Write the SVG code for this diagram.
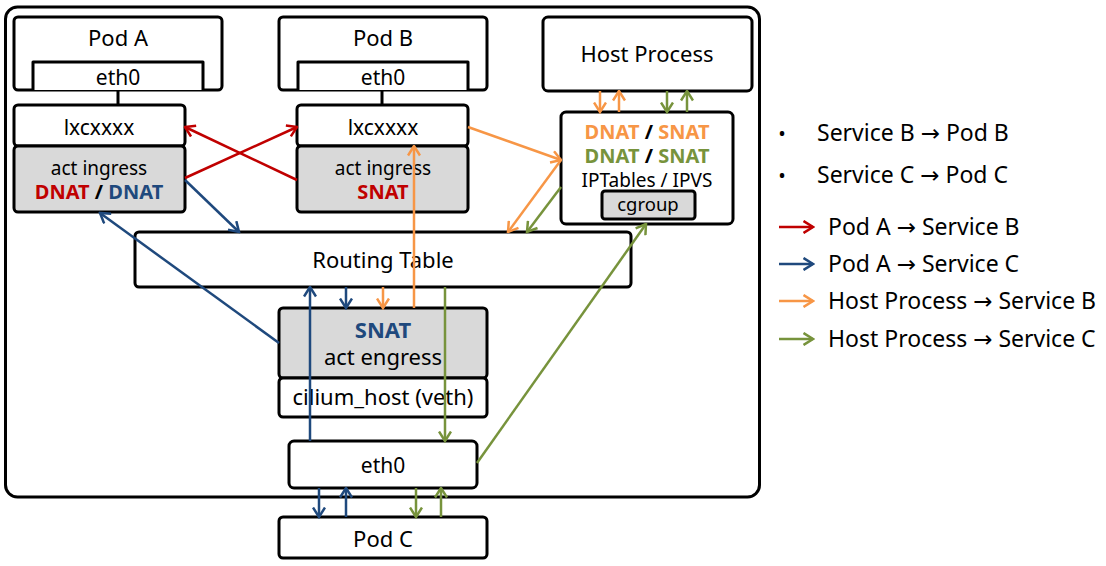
<svg xmlns="http://www.w3.org/2000/svg" width="1106" height="566" viewBox="0 0 1106 566">
<style>
text{font-family:"Noto Sans","Open Sans","DejaVu Sans",sans-serif;fill:#000;text-anchor:middle}
.box{fill:#fff;stroke:#000;stroke-width:3}
.gray{fill:#d9d9d9;stroke:#000;stroke-width:3}
.b{font-weight:bold}
.r{fill:#c00000}.bl{fill:#1f497d}.o{fill:#f79646}.g{fill:#77933c}
.lr{stroke:#c00000}.lb{stroke:#1f497d}.lo{stroke:#f79646}.lg{stroke:#77933c}
#connectors line{stroke-width:2.5;fill:none}
.lg-t{text-anchor:start;font-size:23px}
</style>
<defs>
<marker id="ar" viewBox="0 0 12 14" refX="10.5" refY="7" markerWidth="12" markerHeight="14" markerUnits="userSpaceOnUse" orient="auto"><path d="M1,1 L10.5,7 L1,13" fill="none" stroke="#c00000" stroke-width="2.5"/></marker>
<marker id="ab" viewBox="0 0 12 14" refX="10.5" refY="7" markerWidth="12" markerHeight="14" markerUnits="userSpaceOnUse" orient="auto"><path d="M1,1 L10.5,7 L1,13" fill="none" stroke="#1f497d" stroke-width="2.5"/></marker>
<marker id="ao" viewBox="0 0 12 14" refX="10.5" refY="7" markerWidth="12" markerHeight="14" markerUnits="userSpaceOnUse" orient="auto"><path d="M1,1 L10.5,7 L1,13" fill="none" stroke="#f79646" stroke-width="2.5"/></marker>
<marker id="ag" viewBox="0 0 12 14" refX="10.5" refY="7" markerWidth="12" markerHeight="14" markerUnits="userSpaceOnUse" orient="auto"><path d="M1,1 L10.5,7 L1,13" fill="none" stroke="#77933c" stroke-width="2.5"/></marker>
</defs>

<rect id="host-frame" x="5.5" y="7" width="754" height="490" rx="12" fill="#fff" stroke="#000" stroke-width="3"/>

<g id="pod-a">
<rect class="box" x="14" y="17" width="208" height="73" rx="4"/>
<text x="118" y="46" font-size="22">Pod A</text>
<path d="M33,90 V62 H203 V90" fill="#fff" stroke="#000" stroke-width="3" stroke-linejoin="round"/>
<text x="118" y="85" font-size="21">eth0</text>
</g>
<line x1="118" y1="90" x2="118" y2="105" stroke="#000" stroke-width="3"/>
<g id="lxc-a">
<rect class="box" x="14" y="105" width="171" height="41" rx="4"/>
<text x="99" y="135" font-size="21">lxcxxxx</text>
<rect class="gray" x="14" y="146" width="171" height="66" rx="4"/>
<text x="99" y="175" font-size="19">act ingress</text>
<text x="99" y="199" font-size="20" class="b"><tspan class="r">DNAT</tspan> / <tspan class="bl">DNAT</tspan></text>
</g>

<g id="pod-b">
<rect class="box" x="279" y="17" width="208" height="73" rx="4"/>
<text x="383" y="46" font-size="22">Pod B</text>
<path d="M298,90 V62 H468 V90" fill="#fff" stroke="#000" stroke-width="3" stroke-linejoin="round"/>
<text x="383" y="85" font-size="21">eth0</text>
</g>
<line x1="382" y1="90" x2="382" y2="105" stroke="#000" stroke-width="3"/>
<g id="lxc-b">
<rect class="box" x="297" y="105" width="171" height="41" rx="4"/>
<text x="383" y="135" font-size="21">lxcxxxx</text>
<rect class="gray" x="297" y="146" width="171" height="66" rx="4"/>
<text x="383" y="175" font-size="19">act ingress</text>
<text x="383" y="199" font-size="20" class="b r">SNAT</text>
</g>

<g id="host-process">
<rect class="box" x="543" y="17" width="209" height="74" rx="5"/>
<text x="647" y="62" font-size="22">Host Process</text>
</g>

<g id="iptables">
<rect class="box" x="561" y="112" width="172" height="112" rx="5"/>
<text x="647" y="139" font-size="20" class="b"><tspan class="o">DNAT</tspan> / <tspan class="o">SNAT</tspan></text>
<text x="647" y="163" font-size="20" class="b"><tspan class="g">DNAT</tspan> / <tspan class="g">SNAT</tspan></text>
<text x="647" y="187" font-size="19">IPTables / IPVS</text>
<rect class="gray" x="602" y="191" width="93" height="28" rx="3"/>
<text x="648" y="211" font-size="18.5">cgroup</text>
</g>

<g id="routing-table">
<rect class="box" x="135" y="232" width="496" height="55" rx="4"/>
<text x="383" y="268" font-size="22">Routing Table</text>
</g>

<g id="cilium-host">
<rect class="gray" x="279" y="308" width="208" height="70" rx="4"/>
<text x="383" y="338" font-size="22" class="b bl">SNAT</text>
<text x="383" y="365" font-size="22">act engress</text>
<rect class="box" x="279" y="378" width="208" height="39" rx="4"/>
<text x="383" y="405" font-size="22">cilium_host (veth)</text>
</g>

<g id="eth0">
<rect class="box" x="289" y="441" width="188" height="47" rx="5"/>
<text x="383" y="473" font-size="21">eth0</text>
</g>

<g id="pod-c">
<rect class="box" x="279" y="517" width="208" height="41" rx="4"/>
<text x="383" y="547" font-size="22">Pod C</text>
</g>

<g id="connectors">
<line class="lr" x1="185" y1="178" x2="297" y2="127" marker-end="url(#ar)"/>
<line class="lr" x1="297" y1="180" x2="185" y2="127" marker-end="url(#ar)"/>
<line class="lb" x1="185" y1="180" x2="239" y2="232" marker-end="url(#ab)"/>
<line class="lb" x1="279" y1="343" x2="100" y2="213" marker-end="url(#ab)"/>
<line class="lb" x1="310" y1="441" x2="310" y2="287" marker-end="url(#ab)"/>
<line class="lb" x1="346" y1="287" x2="346" y2="308" marker-end="url(#ab)"/>
<line class="lb" x1="319" y1="488" x2="319" y2="517" marker-end="url(#ab)"/>
<line class="lb" x1="346" y1="517" x2="346" y2="488" marker-end="url(#ab)"/>
<line class="lo" x1="468" y1="127" x2="561" y2="160" marker-end="url(#ao)"/>
<line class="lo" x1="561" y1="160" x2="508" y2="232" marker-end="url(#ao)"/>
<line class="lo" x1="414" y1="308" x2="414" y2="146" marker-end="url(#ao)"/>
<line class="lo" x1="383" y1="287" x2="383" y2="308" marker-end="url(#ao)"/>
<line class="lo" x1="600" y1="91" x2="600" y2="112" marker-end="url(#ao)"/>
<line class="lo" x1="619" y1="112" x2="619" y2="91" marker-end="url(#ao)"/>
<line class="lg" x1="561" y1="187" x2="527" y2="232" marker-end="url(#ag)"/>
<line class="lg" x1="445" y1="287" x2="445" y2="441" marker-end="url(#ag)"/>
<line class="lg" x1="477" y1="463" x2="646" y2="224" marker-end="url(#ag)"/>
<line class="lg" x1="667" y1="91" x2="667" y2="112" marker-end="url(#ag)"/>
<line class="lg" x1="687" y1="112" x2="687" y2="91" marker-end="url(#ag)"/>
<line class="lg" x1="416" y1="488" x2="416" y2="517" marker-end="url(#ag)"/>
<line class="lg" x1="441" y1="517" x2="441" y2="488" marker-end="url(#ag)"/>
</g>

<g id="legend">
<text x="782" y="141" font-size="20">•</text>
<text class="lg-t" x="817" y="141">Service B → Pod B</text>
<text x="782" y="183" font-size="20">•</text>
<text class="lg-t" x="817" y="183">Service C → Pod C</text>
<line x1="779" y1="227" x2="813" y2="227" stroke="#c00000" stroke-width="2.5" marker-end="url(#ar)"/>
<text class="lg-t" x="828" y="235">Pod A → Service B</text>
<line x1="779" y1="264" x2="813" y2="264" stroke="#1f497d" stroke-width="2.5" marker-end="url(#ab)"/>
<text class="lg-t" x="828" y="272">Pod A → Service C</text>
<line x1="779" y1="301" x2="813" y2="301" stroke="#f79646" stroke-width="2.5" marker-end="url(#ao)"/>
<text class="lg-t" x="828" y="309">Host Process → Service B</text>
<line x1="779" y1="339" x2="813" y2="339" stroke="#77933c" stroke-width="2.5" marker-end="url(#ag)"/>
<text class="lg-t" x="828" y="347">Host Process → Service C</text>
</g>
</svg>
